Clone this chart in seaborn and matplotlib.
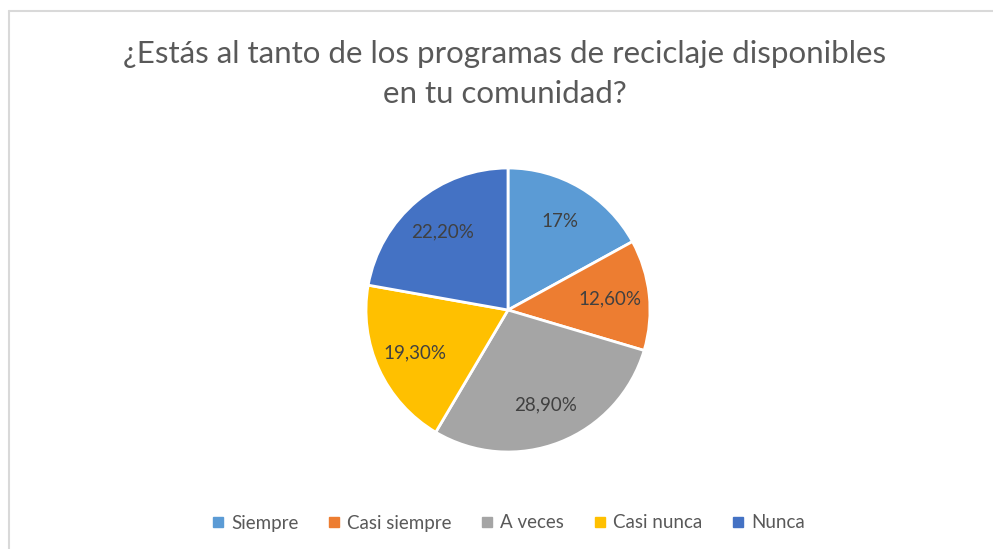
import matplotlib
matplotlib.use("Agg")
import numpy as np
import matplotlib.pyplot as plt
from matplotlib.lines import Line2D
import seaborn as sns

categories = ["Siempre", "Casi siempre", "A veces", "Casi nunca", "Nunca"]
values = [17.0, 12.6, 28.9, 19.3, 22.2]
value_labels = ["17%", "12,60%", "28,90%", "19,30%", "22,20%"]
colors = ["#5B9BD5", "#ED7D31", "#A5A5A5", "#FFC000", "#4472C4"]
title = "¿Estás al tanto de los programas de reciclaje disponibles\nen tu comunidad?"

sns.set_theme(style="white")
plt.rcParams['font.family'] = ['Lato', 'DejaVu Sans']
palette = sns.color_palette(colors)

W, H = 993, 549
fig = plt.figure(figsize=(W / 100, H / 100), dpi=100)
fig.patch.set_facecolor("white")

# chart border (top and left only visible)
fig.add_artist(Line2D([9 / W, 1.0], [1 - 10.5 / H, 1 - 10.5 / H], color="#D9D9D9", lw=1.5, transform=fig.transFigure))
fig.add_artist(Line2D([9 / W, 9 / W], [0.0, 1 - 10.5 / H], color="#D9D9D9", lw=1.5, transform=fig.transFigure))

cx, cy, r = 508, 310, 142
ax = fig.add_axes([(cx - r) / W, (H - cy - r) / H, 2 * r / W, 2 * r / H])
wedges, texts = ax.pie(values, colors=palette, startangle=90, counterclock=False,
                       wedgeprops=dict(edgecolor="white", linewidth=2), radius=1.0)
for w, lab in zip(wedges, value_labels):
    ang = np.deg2rad((w.theta1 + w.theta2) / 2)
    d = 0.72
    ax.text(d * np.cos(ang), d * np.sin(ang), lab, ha="center", va="center",
            fontsize=13.5, color="#404040")
ax.set_aspect("equal")
ax.set_xlim(-1.0, 1.0)
ax.set_ylim(-1.0, 1.0)
ax.axis("off")

fig.text(0.5085, 1 - 74 / H, title, ha="center", va="center", fontsize=22.5,
         color="#595959", linespacing=1.5)

handles = [Line2D([], [], marker="s", linestyle="none", markersize=6.5,
                  markerfacecolor=c, markeredgecolor=c) for c in palette]
fig.legend(handles, categories, loc="center", bbox_to_anchor=(0.512, 1 - 523 / H),
           ncol=5, frameon=False, fontsize=13.5, labelcolor="#595959",
           handlelength=0.6, handletextpad=0.4, columnspacing=1.6)

fig.savefig("out.png", dpi=100, facecolor="white")
